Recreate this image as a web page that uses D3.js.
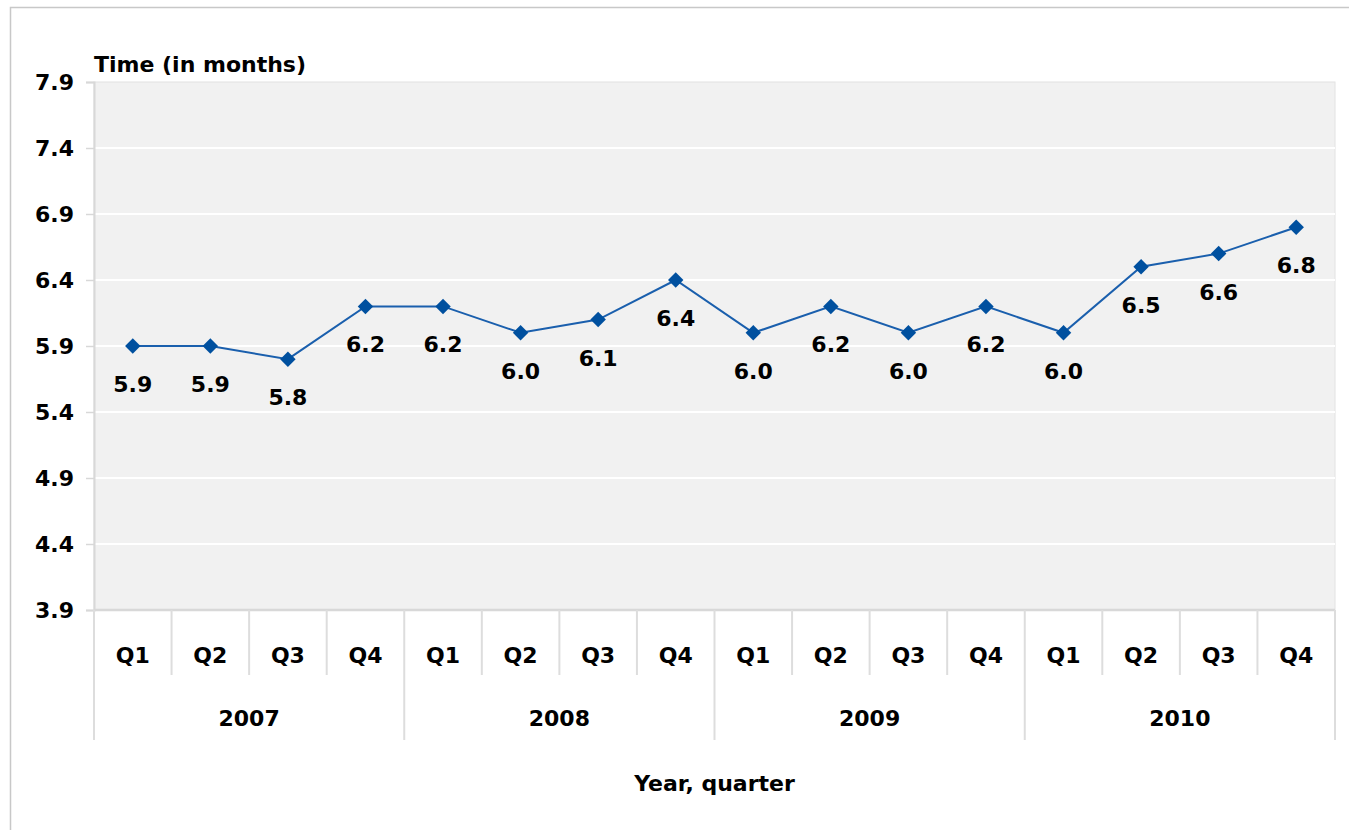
<!DOCTYPE html>
<html>
<head>
<meta charset="utf-8">
<script src="https://cdn.jsdelivr.net/npm/d3@7"></script>
<style>
  body { margin: 0; background: #fff; }
  text { font-family: "DejaVu Sans", Verdana, sans-serif; font-weight: bold; fill: #000; }
</style>
</head>
<body>
<svg id="chart" width="1349" height="830"></svg>
<script>
const years = ['2007', '2008', '2009', '2010'];
const quarters = ['Q1', 'Q2', 'Q3', 'Q4'];
const values = [5.9, 5.9, 5.8, 6.2, 6.2, 6.0, 6.1, 6.4, 6.0, 6.2, 6.0, 6.2, 6.0, 6.5, 6.6, 6.8];
const yTicks = [3.9, 4.4, 4.9, 5.4, 5.9, 6.4, 6.9, 7.4, 7.9];

const margin = { top: 82, right: 14, bottom: 220, left: 94 };
const svg = d3.select('#chart');
const W = 1349, H = 830;
const width = W - margin.left - margin.right;
const height = H - margin.top - margin.bottom;
const fontSize = '22px';

// outer frame
svg.append('path')
  .attr('d', `M10.5,${H} V7.5 H${W}`)
  .attr('fill', 'none')
  .attr('stroke', '#c8c8c8')
  .attr('stroke-width', 1.5);

const data = values.map((v, i) => ({
  year: years[Math.floor(i / 4)],
  quarter: quarters[i % 4],
  key: i,
  value: v
}));

const xScale = d3.scaleBand()
  .domain(data.map(d => d.key))
  .range([0, width]);

const yScale = d3.scaleLinear()
  .domain([3.9, 7.9])
  .range([height, 0]);

const g = svg.append('g')
  .attr('transform', `translate(${margin.left}, ${margin.top})`);

// plot background
g.append('rect')
  .attr('width', width)
  .attr('height', height)
  .attr('fill', '#f1f1f1')
  .attr('stroke', '#e2e2e2');

// gridlines
g.selectAll('line.grid')
  .data(yTicks.filter(t => t > 3.9 && t < 7.9))
  .join('line')
  .attr('class', 'grid')
  .attr('x1', 0)
  .attr('x2', width)
  .attr('y1', d => yScale(d))
  .attr('y2', d => yScale(d))
  .attr('stroke', '#fff')
  .attr('stroke-width', 2);

// y axis
const yAxis = d3.axisLeft(yScale)
  .tickValues(yTicks)
  .tickFormat(d3.format('.1f'))
  .tickSize(8)
  .tickPadding(12);

g.append('g')
  .attr('class', 'axis y')
  .call(yAxis)
  .call(a => a.select('.domain').attr('stroke', '#d8d8d8').attr('stroke-width', 2))
  .call(a => a.selectAll('.tick line').attr('stroke', '#d8d8d8').attr('stroke-width', 1.5))
  .call(a => a.selectAll('.tick text').style('font-size', fontSize).attr('fill', '#000'));

// bottom domain line
g.append('line')
  .attr('x1', 0).attr('x2', width)
  .attr('y1', height).attr('y2', height)
  .attr('stroke', '#d8d8d8')
  .attr('stroke-width', 2.5);

// category separators
const seps = d3.range(data.length + 1);
g.selectAll('line.sep')
  .data(seps)
  .join('line')
  .attr('class', 'sep')
  .attr('x1', d => d === data.length ? width : xScale(d))
  .attr('x2', d => d === data.length ? width : xScale(d))
  .attr('y1', height)
  .attr('y2', d => d % 4 === 0 ? height + 130 : height + 65)
  .attr('stroke', '#dddddd')
  .attr('stroke-width', 2);

// quarter labels
g.selectAll('text.quarter')
  .data(data)
  .join('text')
  .attr('class', 'quarter')
  .attr('x', d => xScale(d.key) + xScale.bandwidth() / 2)
  .attr('y', height + 53)
  .attr('text-anchor', 'middle')
  .style('font-size', fontSize)
  .text(d => d.quarter);

// year labels
g.selectAll('text.year')
  .data(years)
  .join('text')
  .attr('class', 'year')
  .attr('x', (d, i) => xScale(i * 4) + xScale.bandwidth() * 2)
  .attr('y', height + 116)
  .attr('text-anchor', 'middle')
  .style('font-size', fontSize)
  .text(d => d);

// titles
g.append('text')
  .attr('x', 0)
  .attr('y', -10)
  .style('font-size', fontSize)
  .text('Time (in months)');

g.append('text')
  .attr('x', width / 2)
  .attr('y', height + 181)
  .attr('text-anchor', 'middle')
  .style('font-size', fontSize)
  .text('Year, quarter');

// line
const line = d3.line()
  .x(d => xScale(d.key) + xScale.bandwidth() / 2)
  .y(d => yScale(d.value));

g.append('path')
  .datum(data)
  .attr('d', line)
  .attr('fill', 'none')
  .attr('stroke', '#1a5fad')
  .attr('stroke-width', 2);

// markers
g.selectAll('path.marks')
  .data(data)
  .join('path')
  .attr('class', 'marks')
  .attr('d', d3.symbol().type(d3.symbolSquare).size(120))
  .attr('transform', d => `translate(${xScale(d.key) + xScale.bandwidth() / 2}, ${yScale(d.value)}) rotate(45)`)
  .attr('fill', '#00509f');

// value labels
g.selectAll('text.value')
  .data(data)
  .join('text')
  .attr('class', 'value')
  .attr('x', d => xScale(d.key) + xScale.bandwidth() / 2)
  .attr('y', d => yScale(d.value) + 46)
  .attr('text-anchor', 'middle')
  .style('font-size', fontSize)
  .text(d => d3.format('.1f')(d.value));
</script>
</body>
</html>
